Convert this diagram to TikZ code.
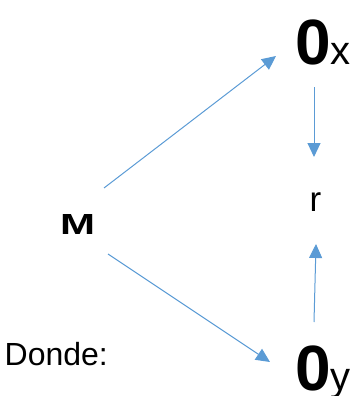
\documentclass[tikz,border=0pt]{standalone}
\usepackage{fontspec}
\setmainfont{Liberation Sans}
\usetikzlibrary{arrows.meta}
\definecolor{arrblue}{RGB}{91,155,213}
\begin{document}
\begin{tikzpicture}[x=1pt,y=-1pt,
  conn/.style={draw=arrblue,line width=1pt,-{Triangle[length=14pt,width=13pt]},arrblue},
  lbl/.style={inner sep=0pt,outer sep=0pt,anchor=base west,text=black}]
\useasboundingbox (0,0) rectangle (357,396);
\node[lbl] (ox) at (295,64) {{\fontsize{64}{64}\selectfont\bfseries 0}{\fontsize{40}{40}\selectfont x}};
\node[lbl] (oy) at (295,390) {{\fontsize{64}{64}\selectfont\bfseries 0}{\fontsize{40}{40}\selectfont y}};
\node[lbl] (r) at (309.7,211) {\fontsize{35}{35}\selectfont r};
\node[lbl] (M) at (60,234) {\resizebox{35pt}{20pt}{\fontsize{28}{28}\selectfont\bfseries M}};
\node[lbl] (donde) at (4.7,365) {\fontsize{32}{32}\selectfont Donde:};
\coordinate (m1) at (104,188);
\coordinate (x1) at (276,56);
\coordinate (x2) at (314,87);
\coordinate (r1) at (314,157);
\coordinate (y2) at (314,322);
\coordinate (r2) at (316,244);
\coordinate (m2) at (108,254);
\coordinate (y1) at (270,362);
\draw[conn] (m1) -- (x1);
\draw[conn] (x2) -- (r1);
\draw[conn] (y2) -- (r2);
\draw[conn] (m2) -- (y1);
\end{tikzpicture}
\end{document}
